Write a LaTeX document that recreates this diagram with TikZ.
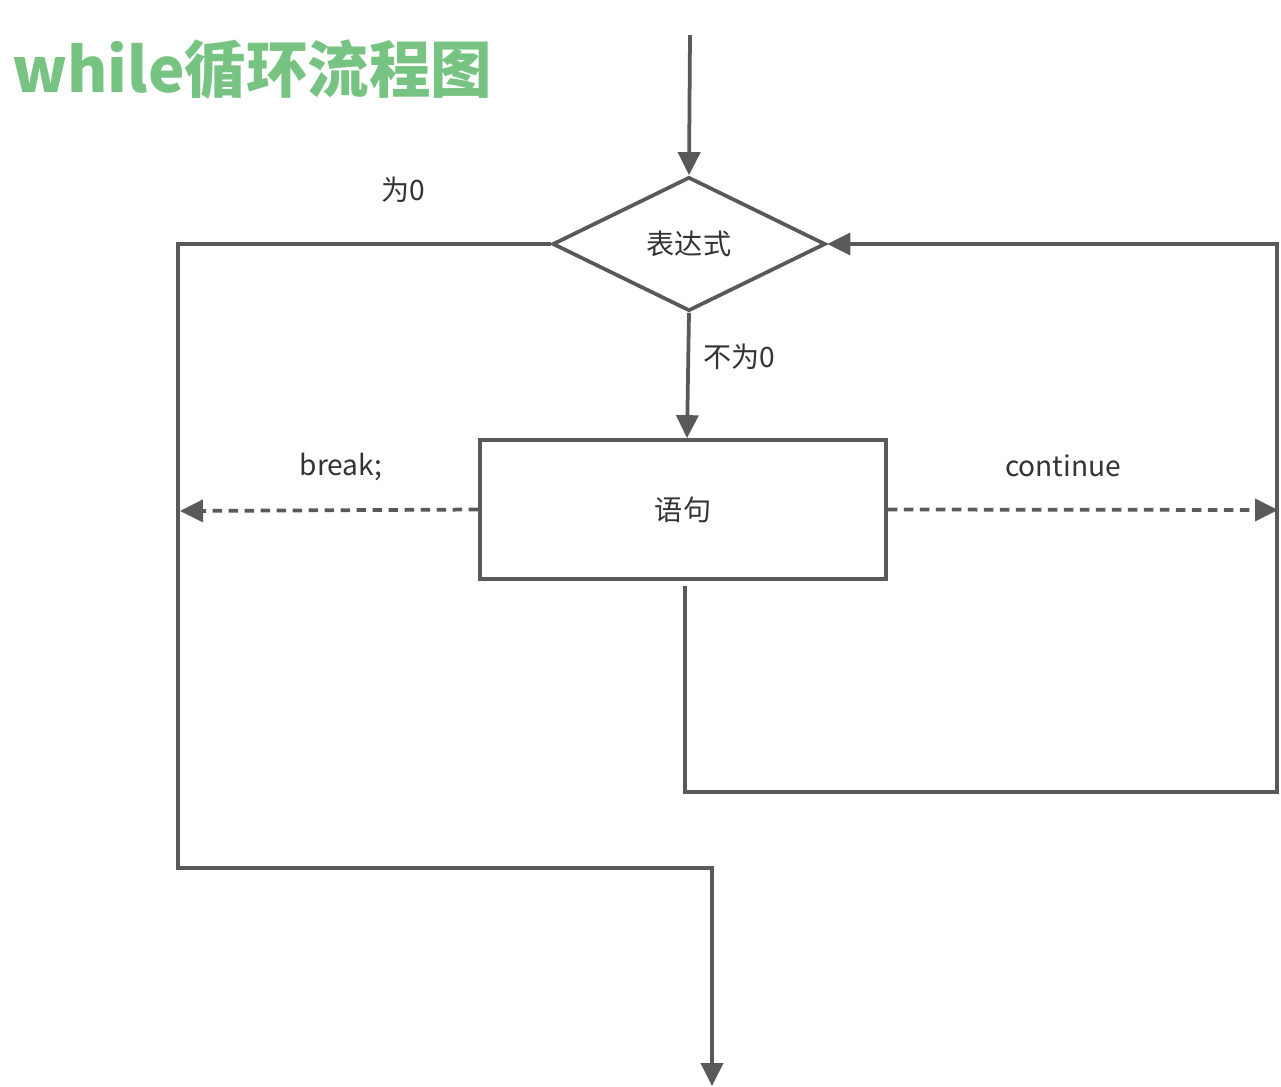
\documentclass[tikz,border=0pt]{standalone}
\usepackage{fontspec}
\setmainfont{Noto Sans CJK SC}
\newfontfamily\titlefont{Noto Sans CJK SC Black}
\usetikzlibrary{shapes.geometric,arrows.meta}
\definecolor{linegray}{HTML}{595959}
\definecolor{textgray}{HTML}{333333}
\definecolor{titlegreen}{HTML}{77C382}
\tikzset{
  flow/.style={draw=linegray, line width=0.075cm},
  tip/.style={-{Triangle[length=0.46cm,width=0.44cm]}},
  dotted line/.style={dash pattern=on 0.19cm off 0.13cm},
  lbl/.style={text=textgray, inner sep=0pt, font=\fontsize{16}{18}\selectfont},
}
\begin{document}
\begin{tikzpicture}[x=0.02cm, y=-0.02cm]
\useasboundingbox[fill=white] (0,0) rectangle (1281,1086);
\node[inner sep=0pt, anchor=west, text=titlegreen, font=\titlefont\fontsize{35}{40}\selectfont] (title) at (12,70){while循环流程图};
% shapes
\node[flow, diamond, inner sep=0pt, minimum width=5.46cm, minimum height=2.68cm, lbl] (expr) at (689,244){表达式};
\node[flow, rectangle, inner sep=0pt, minimum width=8.12cm, minimum height=2.78cm, lbl] (stmt) at (683,509.5){语句};
% labels
\node[lbl] (zero) at (403,190){为0};
\node[lbl] (nonzero) at (739,357){不为0};
\node[lbl] (brklbl) at (341,467){break;};
\node[lbl] (contlbl) at (1063,466){continue};
% corners
\coordinate (start) at (690,35);
\coordinate (leftTop) at (178,244);
\coordinate (leftBot) at (178,868);
\coordinate (outBend) at (712,868);
\coordinate (outEnd) at (712,1086);
\coordinate (brk) at (180,511);
\coordinate (cont) at (1278,510);
\coordinate (loopTop) at (685,586);
\coordinate (loopA) at (685,792);
\coordinate (loopB) at (1277,792);
\coordinate (loopC) at (1277,244);
% connectors
\draw[flow, tip] (start) -- (expr.north);
\draw[flow, tip] (expr.south) -- ([xshift=0.08cm]stmt.north);
\draw[flow, tip] (expr.west) -- (leftTop) -- (leftBot) -- (outBend) -- (outEnd);
\draw[flow, tip, dotted line] (stmt.west) -- (brk);
\draw[flow, tip, dotted line] (stmt.east) -- (cont);
\draw[flow, tip] (loopTop) -- (loopA) -- (loopB) -- (loopC) -- (expr.east);
\end{tikzpicture}
\end{document}
